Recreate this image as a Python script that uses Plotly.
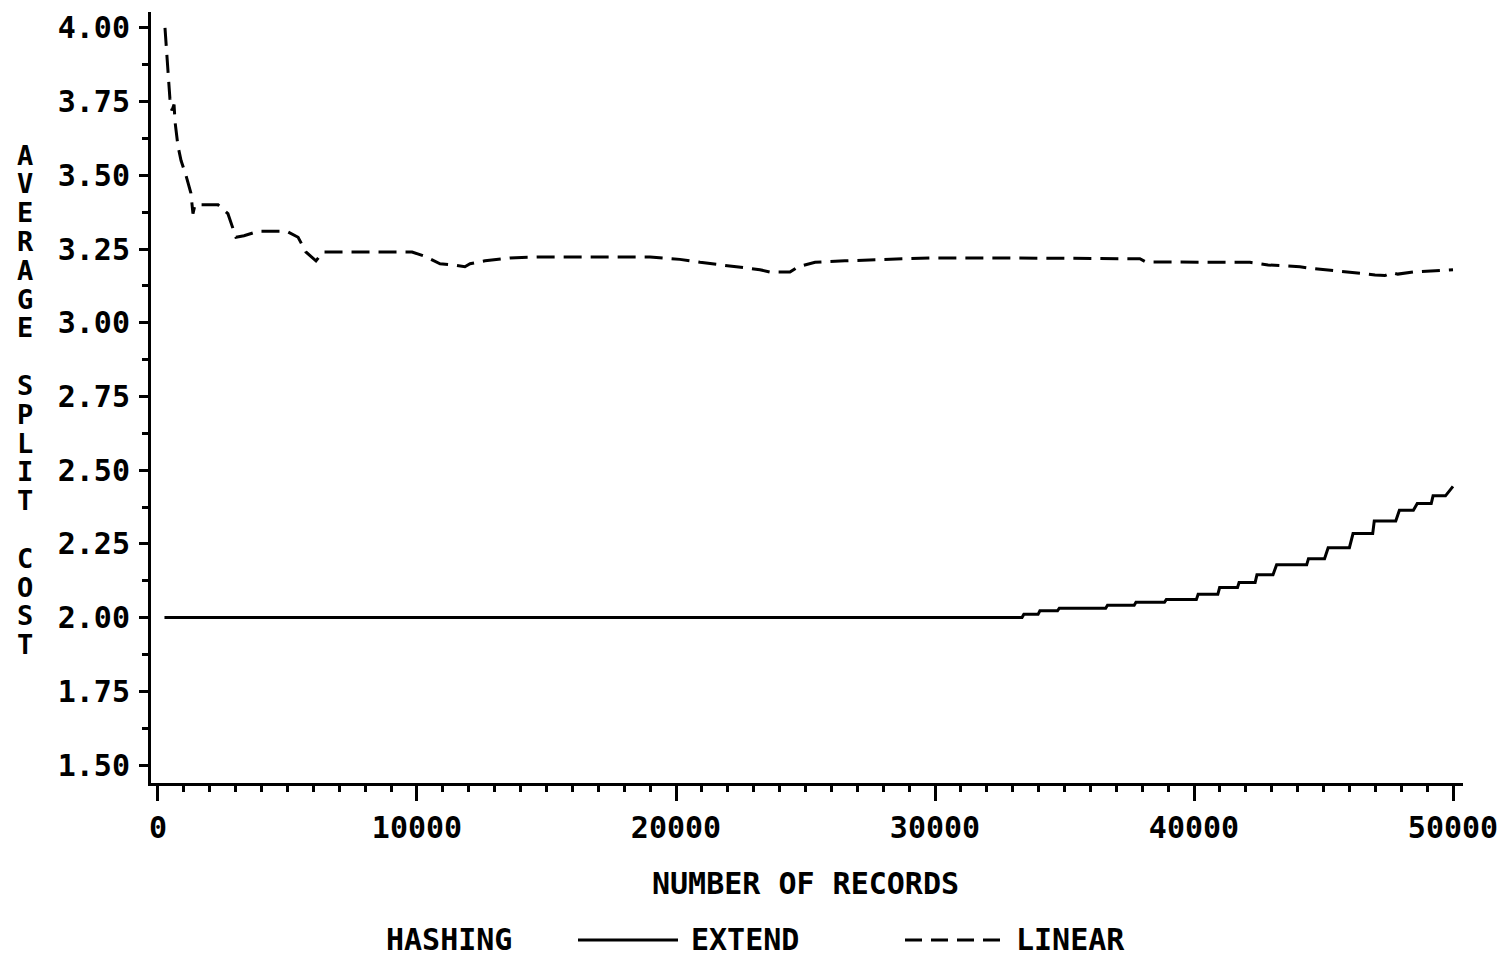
import plotly.graph_objects as go

# ---- data ----
extend_x = [250, 33360, 33430, 33980, 34050, 34730, 34800, 36590, 36660, 37690, 37760, 38860,
            38930, 40090, 40160, 40920, 40990, 41680, 41740, 42360, 42430, 43050, 43190, 44350,
            44420, 45040, 45180, 46000, 46140, 46900, 46960, 47790, 47930, 48470, 48620, 49160,
            49230, 49710, 50000]
extend_y = [2.000, 2.000, 2.011, 2.011, 2.023, 2.023, 2.032, 2.032, 2.042, 2.042, 2.052, 2.052,
            2.061, 2.061, 2.079, 2.079, 2.102, 2.102, 2.119, 2.119, 2.145, 2.145, 2.179, 2.179,
            2.200, 2.200, 2.237, 2.237, 2.285, 2.285, 2.328, 2.328, 2.364, 2.364, 2.387, 2.387,
            2.413, 2.413, 2.445]

linear_x = [270, 390, 460, 540, 620, 660, 770, 890, 1080, 1270, 1350, 1430, 2320, 2700, 3010,
            3320, 3860, 4980, 5410, 5710, 6100, 6370, 9810, 10310, 10890, 11470, 11850, 12050,
            12630, 13590, 14750, 19000, 20150, 20930, 22280, 23240, 23630, 24400, 24710, 25370,
            26520, 29810, 32510, 37910, 38150, 42160, 42860, 44090, 44480, 45400, 46410, 46990,
            47370, 47640, 47870, 48460, 49110, 50000]
linear_y = [4.00, 3.85, 3.76, 3.72, 3.74, 3.68, 3.60, 3.55, 3.50, 3.44, 3.37, 3.40, 3.40, 3.37,
            3.29, 3.295, 3.31, 3.31, 3.29, 3.24, 3.21, 3.24, 3.24, 3.225, 3.20, 3.195, 3.19, 3.20,
            3.21, 3.22, 3.223, 3.223, 3.215, 3.205, 3.19, 3.18, 3.172, 3.172, 3.19, 3.205, 3.21,
            3.22, 3.22, 3.217, 3.206, 3.205, 3.196, 3.19, 3.185, 3.178, 3.168, 3.162, 3.16, 3.17,
            3.165, 3.172, 3.175, 3.18]

y_ticks = [1.50, 1.75, 2.00, 2.25, 2.50, 2.75, 3.00, 3.25, 3.50, 3.75, 4.00]
y_tick_text = ["1.50", "1.75", "2.00", "2.25", "2.50", "2.75", "3.00", "3.25", "3.50", "3.75", "4.00"]
x_ticks = [0, 10000, 20000, 30000, 40000, 50000]
x_tick_text = ["0", "10000", "20000", "30000", "40000", "50000"]

FONT = "DejaVu Sans Mono"
W, H = 1508, 956
L, R, T, B = 151, 45, 12, 173
PW, PH = W - L - R, H - T - B


def px(xp):
    return (xp - L) / PW


def py(yp):
    return (H - B - yp) / PH


fig = go.Figure()
fig.add_trace(go.Scatter(x=extend_x, y=extend_y, mode="lines", name="EXTEND",
                         line=dict(color="black", width=3)))
fig.add_trace(go.Scatter(x=linear_x, y=linear_y, mode="lines", name="LINEAR",
                         line=dict(color="black", width=3, dash="18px,9px")))

tickfont = dict(family=FONT, size=30, color="black", weight="bold")

fig.update_xaxes(range=[-270, 50386], showline=True, linewidth=3, linecolor="black",
                 tickvals=x_ticks, ticktext=x_tick_text, ticks="outside", ticklen=15,
                 tickwidth=3, tickcolor="black", tickfont=tickfont, showgrid=False,
                 zeroline=False, ticklabelstandoff=1,
                 minor=dict(dtick=1000, tick0=0, ticks="outside", ticklen=6, tickwidth=3,
                            tickcolor="black", showgrid=False))
fig.update_yaxes(range=[1.439, 4.054], showline=True, linewidth=3, linecolor="black",
                 tickvals=y_ticks, ticktext=y_tick_text, ticks="outside", ticklen=9,
                 tickwidth=3, tickcolor="black", tickfont=tickfont, showgrid=False,
                 zeroline=False, ticklabelstandoff=3,
                 minor=dict(dtick=0.125, tick0=1.5, ticks="outside", ticklen=6, tickwidth=3,
                            tickcolor="black", showgrid=False))

annots = []
textfont = dict(family=FONT, size=30, color="black", weight="bold")
annots.append(dict(text="NUMBER OF RECORDS", x=px(805), y=py(883), xref="paper", yref="paper",
                   xanchor="center", yanchor="middle", showarrow=False, font=textfont))
for label, xp in [("HASHING", 385), ("EXTEND", 690), ("LINEAR", 1015)]:
    annots.append(dict(text=label, x=px(xp), y=py(939), xref="paper", yref="paper",
                       xanchor="left", yanchor="middle", showarrow=False, font=textfont,
                       height=30, valign="middle", borderpad=0))

title_letters = list("AVERAGE SPLIT COST")
for i, ch in enumerate(title_letters):
    if ch == " ":
        continue
    annots.append(dict(text=ch, x=px(25), y=py(155 + i * 28.8), xref="paper", yref="paper",
                       xanchor="center", yanchor="middle", showarrow=False,
                       font=dict(family=FONT, size=27, color="black", weight="bold")))

shapes = [
    dict(type="line", xref="paper", yref="paper", x0=px(578), x1=px(678), y0=py(940), y1=py(940),
         line=dict(color="black", width=3)),
    dict(type="line", xref="paper", yref="paper", x0=px(905), x1=px(1002), y0=py(940), y1=py(940),
         line=dict(color="black", width=3, dash="17px,9px")),
]

fig.update_layout(width=W, height=H, margin=dict(l=L, r=R, t=T, b=B, autoexpand=False),
                  paper_bgcolor="white", plot_bgcolor="white", showlegend=False,
                  annotations=annots, shapes=shapes)

fig.write_html("out.html")
